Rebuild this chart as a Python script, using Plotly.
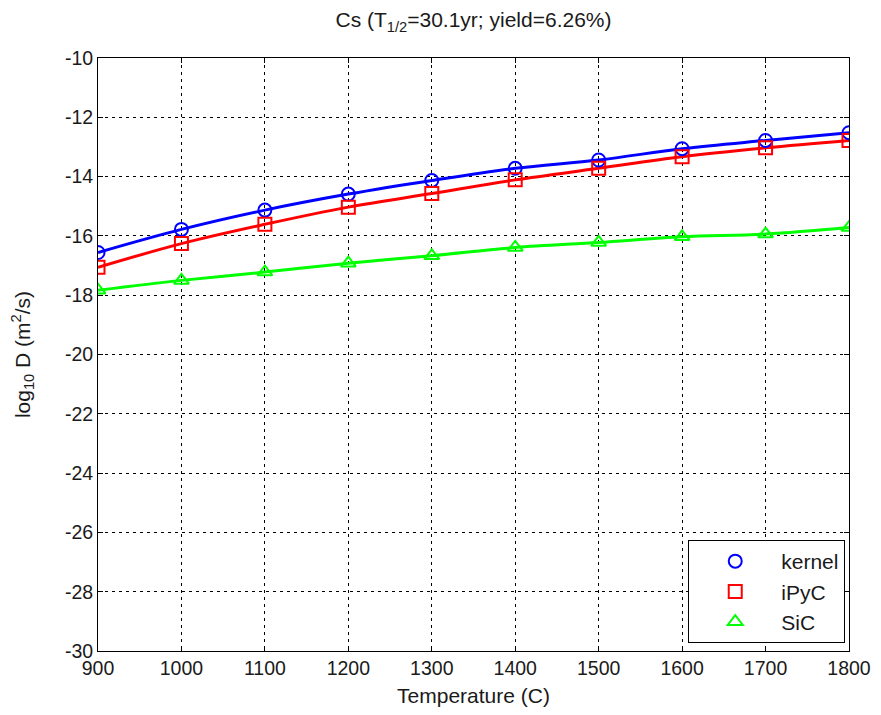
import plotly.graph_objects as go

temperature = [900, 1000, 1100, 1200, 1300, 1400, 1500, 1600, 1700, 1800]
kernel = [-16.56, -15.78, -15.13, -14.59, -14.13, -13.72, -13.44, -13.06, -12.78, -12.52]
ipyc = [-17.06, -16.26, -15.61, -15.03, -14.57, -14.11, -13.72, -13.33, -13.03, -12.78]
sic = [-17.83, -17.50, -17.22, -16.92, -16.67, -16.39, -16.22, -16.03, -15.94, -15.72]

x_ticks = [900, 1000, 1100, 1200, 1300, 1400, 1500, 1600, 1700, 1800]
y_ticks = [-30, -28, -26, -24, -22, -20, -18, -16, -14, -12, -10]

series = [
    ("kernel", kernel, "#0000ff", "circle-open"),
    ("iPyC", ipyc, "#ff0000", "square-open"),
    ("SiC", sic, "#00ff00", "triangle-up-open"),
]

fig = go.Figure()

# smooth curves first (no legend), then the open markers that carry the legend
for name, vals, col, sym in series:
    fig.add_trace(go.Scatter(x=temperature, y=vals, mode="lines",
                             line=dict(color=col, width=3, shape="spline"),
                             showlegend=False, hoverinfo="skip"))
for name, vals, col, sym in series:
    fig.add_trace(go.Scatter(x=temperature, y=vals, mode="markers", name=name,
                             legendgroup=name,
                             marker=dict(symbol=sym, size=13, color=col,
                                         line=dict(color=col, width=2))))

axis_style = dict(showline=True, linecolor="black", linewidth=1, mirror="ticks",
                  ticks="inside", ticklen=5, tickcolor="black",
                  showgrid=True, gridcolor="black", gridwidth=1, griddash="3px,4px",
                  zeroline=False, automargin=False, ticklabeloverflow="allow",
                  tickfont=dict(size=19.5, color="#1a1a1a"))

fig.update_xaxes(range=[900, 1800], tickvals=x_ticks, ticktext=[str(t) for t in x_ticks],
                 title=dict(text="Temperature (C)", font=dict(size=21), standoff=9),
                 **axis_style)
fig.update_yaxes(range=[-30, -10], tickvals=y_ticks, ticktext=[str(t) for t in y_ticks],
                 title=dict(text="log<sub>10</sub> D (m<sup>2</sup>/s)", font=dict(size=21), standoff=30),
                 **axis_style)

# the page body adds 8px on every side, so the figure is sized to fit the window without scrollbars
fig.update_layout(
    width=865, height=699,
    template="plotly_white",
    paper_bgcolor="white", plot_bgcolor="white",
    font=dict(family="Liberation Sans, Arial, sans-serif", color="#1a1a1a", size=20),
    title=dict(text="Cs (T<sub>1/2</sub>=30.1yr; yield=6.26%)", xref="paper", x=0.5, xanchor="center",
               y=0.983, yanchor="middle", font=dict(size=21, color="#1a1a1a")),
    margin=dict(l=90, r=24, t=50, b=56),
    legend=dict(x=0.995, y=0.0135, xanchor="right", yanchor="bottom",
                bgcolor="white", bordercolor="black", borderwidth=1,
                traceorder="grouped", tracegroupgap=0,
                font=dict(size=21, color="#1a1a1a"), itemwidth=82),
)

fig.write_html("out.html")
